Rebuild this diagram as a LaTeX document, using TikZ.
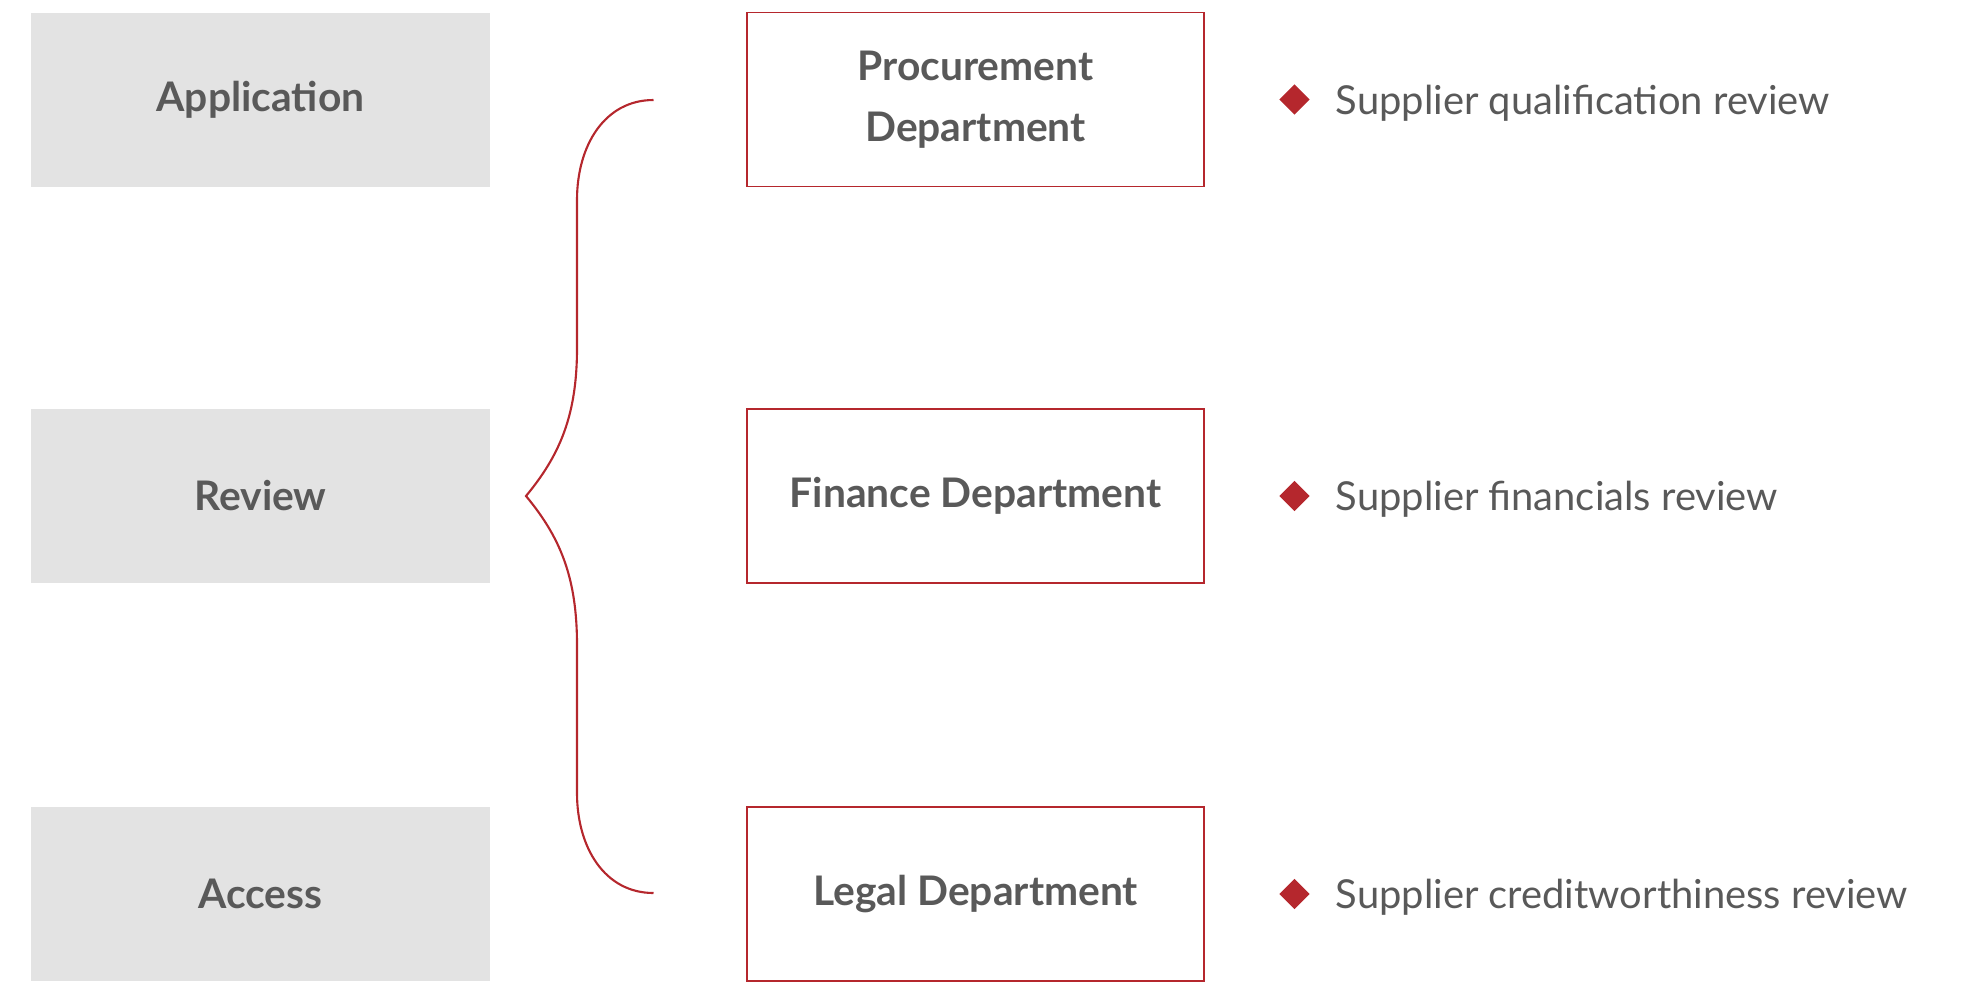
\documentclass[tikz,border=0pt]{standalone}
\usepackage{fontspec}
\setmainfont{Lato}
\usepackage{xcolor}
\usepackage{tikz}
\usetikzlibrary{shapes.geometric}
\definecolor{boxgray}{HTML}{E3E3E3}
\definecolor{txtgray}{HTML}{595959}
\definecolor{darkred}{HTML}{B5272D}

\begin{document}
\begin{tikzpicture}[%
% common options for the grey stage blocks:
stage/.style = {fill=boxgray, text=txtgray, align=center, minimum width=4.59cm,
            minimum height=1.74cm, inner sep=0, font=\fontsize{11.6}{17.5}\selectfont\bfseries},
% common options for the department boxes:
dept/.style = {draw=darkred, line width=0.5pt, text=txtgray, align=center, minimum width=4.57cm,
            minimum height=1.74cm, inner sep=0, font=\fontsize{11.6}{17.5}\selectfont\bfseries},
% common options for the bullets:
bullet/.style = {diamond, fill=darkred, inner sep=0, minimum width=0.31cm, minimum height=0.31cm},
item/.style = {text=txtgray, anchor=west, inner sep=0, font=\fontsize{11.35}{13}\selectfont}]
\useasboundingbox (0,0) rectangle (19.63,-9.81);

\node[stage] (app) at (2.605,-0.995) {Application};
\node[stage] (rev) at (2.605,-4.96) {Review};
\node[stage] (acc) at (2.605,-8.94) {Access};

\node[dept] (proc) at (9.755,-0.995) {Procurement\\Department};
\node[dept] (fin) at (9.755,-4.96) {Finance Department};
\node[dept] (legal) at (9.755,-8.94) {Legal Department};

\node[bullet] (b1) at (12.945,-0.995) {};
\node[bullet] (b2) at (12.945,-4.96) {};
\node[bullet] (b3) at (12.945,-8.94) {};

\node[item] (t1) at (13.35,-1.03) {Supplier qualification review};
\node[item] (t2) at (13.35,-4.995) {Supplier financials review};
\node[item] (t3) at (13.35,-8.975) {Supplier creditworthiness review};

% the brace
\coordinate (top) at (6.535,-1.0);
\coordinate (tip) at (5.26,-4.96);
\coordinate (bot) at (6.535,-8.93);
\draw[darkred, line width=0.6pt] (top) .. controls (6.05,-1.0) and (5.77,-1.45) .. (5.77,-2.0)
  -- (5.77,-3.48) .. controls (5.77,-4.15) and (5.6,-4.55) .. (tip)
  .. controls (5.6,-5.37) and (5.77,-5.77) .. (5.77,-6.45)
  -- (5.77,-7.93) .. controls (5.77,-8.48) and (6.05,-8.93) .. (bot);
\end{tikzpicture}
\end{document}
